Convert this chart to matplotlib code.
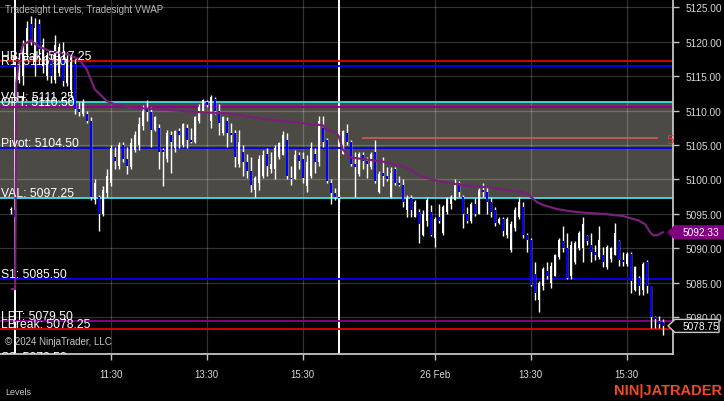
import matplotlib
matplotlib.use("Agg")
import matplotlib.pyplot as plt
from matplotlib.patches import Polygon
from matplotlib.transforms import IdentityTransform
import numpy as np

plt.rcParams['font.family'] = ['Liberation Sans', 'DejaVu Sans']

# 5 minute bars, index of the first drawn bar
first_bar = 2

opens = [
    5095.5, 5095.5, 5114.5, 5115.0, 5118.0, 5122.5, 5117.0, 5122.5, 5116.5, 5115.0,
    5117.5, 5114.5, 5115.5, 5117.5, 5114.0, 5113.0, 5116.75, 5110.25, 5109.5, 5109.5,
    5108.5, 5097.0, 5097.5, 5095.0, 5098.0, 5099.5, 5103.25, 5102.0, 5105.0, 5103.0,
    5101.75, 5104.25, 5105.0, 5107.75, 5110.25, 5109.75, 5107.25, 5107.5, 5104.25, 5103.0,
    5106.5, 5104.5, 5107.0, 5105.0, 5107.5, 5105.75, 5105.5, 5108.5, 5110.0, 5111.25,
    5108.5, 5111.75, 5110.0, 5106.75, 5108.5, 5106.75, 5106.75, 5102.25, 5104.0, 5102.5,
    5101.25, 5098.5, 5099.5, 5100.5, 5103.75, 5101.5, 5101.5, 5103.25, 5103.5, 5105.75,
    5100.25, 5100.0, 5103.5, 5103.0, 5099.0, 5100.5, 5103.75, 5102.5, 5107.5, 5105.75,
    5099.5, 5098.0, 5097.5, 5103.75, 5106.75, 5105.5, 5102.25, 5100.75, 5103.5, 5102.75,
    5101.75, 5104.0, 5098.25, 5101.0, 5100.5, 5097.5, 5101.5, 5099.5, 5099.25, 5095.5,
    5097.25, 5094.5, 5095.25, 5092.0, 5094.0, 5095.25, 5091.5, 5094.5, 5092.25, 5095.25,
    5096.5, 5097.0, 5099.5, 5097.5, 5095.0, 5094.0, 5096.5, 5095.0, 5098.5, 5098.25,
    5096.75, 5095.5, 5093.75, 5094.25, 5092.0, 5089.75, 5093.0, 5094.5, 5096.0, 5092.0,
    5091.25, 5086.25, 5082.5, 5084.5, 5086.75, 5085.0, 5086.0, 5088.75, 5091.0, 5090.0,
    5086.0, 5088.0, 5090.0, 5090.0, 5091.75, 5090.5, 5089.5, 5088.75, 5089.0, 5087.25,
    5088.5, 5089.0, 5091.0, 5088.25, 5087.75, 5089.25, 5084.0, 5085.75, 5084.0, 5088.0,
    5084.5, 5080.0, 5079.5, 5079.25,
]
highs = [
    5096.0, 5096.0, 5117.25, 5120.25, 5123.0, 5123.75, 5123.5, 5123.25, 5120.5, 5118.5,
    5118.25, 5121.0, 5119.75, 5120.0, 5118.5, 5118.0, 5117.5, 5111.25, 5111.75, 5110.0,
    5109.0, 5100.0, 5097.75, 5099.0, 5101.5, 5105.0, 5104.75, 5105.5, 5105.5, 5104.75,
    5106.0, 5107.0, 5109.0, 5110.75, 5111.5, 5110.5, 5109.25, 5108.0, 5104.5, 5107.25,
    5107.0, 5107.25, 5107.5, 5108.25, 5108.0, 5107.5, 5109.25, 5111.0, 5111.75, 5111.5,
    5112.25, 5112.0, 5111.0, 5109.25, 5109.0, 5108.25, 5107.25, 5107.25, 5105.0, 5103.75,
    5103.25, 5100.5, 5103.5, 5104.25, 5104.5, 5104.0, 5105.0, 5105.5, 5107.0, 5106.75,
    5102.0, 5104.25, 5104.0, 5104.0, 5103.5, 5105.5, 5104.5, 5109.25, 5109.25, 5106.0,
    5100.0, 5098.75, 5097.75, 5107.25, 5108.0, 5105.75, 5104.0, 5104.0, 5104.0, 5103.25,
    5104.0, 5105.75, 5101.25, 5103.25, 5101.75, 5101.75, 5101.75, 5100.5, 5100.0, 5097.75,
    5097.75, 5097.0, 5095.75, 5095.5, 5097.5, 5096.25, 5094.5, 5096.5, 5096.25, 5097.5,
    5097.75, 5100.0, 5099.75, 5097.75, 5096.0, 5096.75, 5097.25, 5098.75, 5099.5, 5099.0,
    5097.5, 5096.0, 5094.5, 5094.5, 5094.5, 5094.0, 5096.0, 5097.5, 5096.75, 5092.25,
    5091.5, 5088.0, 5085.25, 5087.25, 5088.0, 5088.0, 5089.25, 5091.5, 5093.25, 5092.25,
    5091.0, 5091.0, 5092.5, 5094.5, 5092.0, 5092.25, 5090.5, 5093.25, 5090.25, 5090.5,
    5090.25, 5093.75, 5091.25, 5089.5, 5089.5, 5089.5, 5087.5, 5086.0, 5088.0, 5088.25,
    5084.5, 5080.25, 5080.25, 5079.75,
]
lows = [
    5095.0, 5094.25, 5114.0, 5113.75, 5117.5, 5119.5, 5115.0, 5118.25, 5115.5, 5114.5,
    5114.0, 5114.0, 5115.0, 5113.5, 5113.5, 5112.0, 5109.5, 5109.25, 5109.25, 5108.25,
    5097.0, 5096.5, 5092.5, 5094.75, 5097.5, 5099.0, 5101.5, 5101.5, 5102.5, 5100.75,
    5101.5, 5104.0, 5104.25, 5107.25, 5108.5, 5104.75, 5107.0, 5101.5, 5099.0, 5102.5,
    5101.0, 5104.0, 5104.5, 5104.75, 5104.5, 5105.25, 5105.25, 5108.25, 5110.0, 5110.5,
    5107.5, 5109.5, 5106.5, 5106.5, 5104.75, 5105.5, 5101.75, 5101.75, 5100.5, 5100.25,
    5098.25, 5097.5, 5098.5, 5100.25, 5100.5, 5101.0, 5100.0, 5103.0, 5103.5, 5100.0,
    5099.25, 5100.0, 5101.5, 5099.5, 5098.25, 5100.25, 5101.0, 5102.0, 5104.75, 5099.5,
    5096.5, 5097.0, 5096.75, 5103.75, 5105.0, 5102.0, 5097.5, 5100.5, 5101.5, 5100.25,
    5101.5, 5099.5, 5098.0, 5099.0, 5099.75, 5097.25, 5099.25, 5099.0, 5096.0, 5094.5,
    5094.5, 5094.5, 5090.75, 5091.75, 5093.25, 5091.75, 5090.25, 5093.75, 5092.0, 5095.0,
    5095.75, 5097.0, 5097.5, 5093.0, 5093.75, 5093.75, 5094.75, 5095.0, 5097.5, 5095.0,
    5094.5, 5093.25, 5093.5, 5091.75, 5091.5, 5089.5, 5092.5, 5094.25, 5091.5, 5089.5,
    5084.5, 5082.5, 5080.75, 5084.0, 5085.5, 5084.25, 5086.0, 5088.5, 5089.5, 5085.5,
    5085.5, 5087.75, 5089.75, 5088.0, 5090.5, 5088.0, 5088.25, 5088.5, 5087.25, 5087.0,
    5088.0, 5089.0, 5087.5, 5087.5, 5087.5, 5083.5, 5083.75, 5083.25, 5083.25, 5083.5,
    5078.5, 5078.5, 5078.5, 5077.5,
]
closes = [
    5095.75, 5094.5, 5116.75, 5119.0, 5122.0, 5120.25, 5122.0, 5119.0, 5119.5, 5118.0,
    5115.0, 5119.5, 5119.25, 5114.25, 5117.5, 5117.0, 5110.25, 5109.75, 5111.25, 5108.5,
    5097.5, 5099.5, 5095.0, 5098.5, 5100.5, 5104.5, 5102.75, 5105.0, 5103.0, 5102.0,
    5105.25, 5106.5, 5108.0, 5110.0, 5109.75, 5107.25, 5109.0, 5104.0, 5104.0, 5106.75,
    5105.5, 5107.0, 5106.5, 5108.0, 5105.75, 5105.5, 5109.0, 5110.5, 5111.5, 5110.75,
    5112.0, 5110.0, 5108.25, 5109.0, 5106.75, 5106.5, 5103.25, 5105.5, 5102.5, 5101.25,
    5099.25, 5100.25, 5103.0, 5103.5, 5102.0, 5102.25, 5104.5, 5105.25, 5106.5, 5100.5,
    5100.0, 5103.5, 5102.75, 5100.25, 5102.5, 5104.5, 5102.5, 5108.5, 5105.5, 5099.75,
    5098.0, 5097.5, 5097.25, 5107.0, 5105.5, 5102.25, 5101.75, 5103.75, 5102.75, 5102.25,
    5103.75, 5099.75, 5100.75, 5100.5, 5100.0, 5101.0, 5099.5, 5099.25, 5096.75, 5097.25,
    5095.5, 5096.75, 5093.5, 5095.0, 5097.0, 5092.0, 5094.25, 5094.0, 5096.0, 5097.25,
    5097.5, 5099.5, 5098.25, 5095.0, 5094.0, 5096.5, 5095.0, 5098.5, 5098.25, 5096.75,
    5095.25, 5093.75, 5094.25, 5092.5, 5094.25, 5093.5, 5095.5, 5096.75, 5092.0, 5091.25,
    5084.75, 5083.5, 5085.0, 5087.0, 5086.0, 5087.5, 5089.0, 5091.25, 5090.0, 5085.75,
    5090.5, 5090.75, 5092.25, 5093.5, 5091.0, 5089.5, 5089.0, 5091.25, 5088.0, 5090.25,
    5090.0, 5092.25, 5088.25, 5088.0, 5089.25, 5085.25, 5087.25, 5084.5, 5087.75, 5084.5,
    5080.0, 5079.75, 5079.0, 5078.75,
]

# VWAP (bar index, price)
vwap_x = [2.3, 3.1, 3.4, 4, 5, 7, 9, 12, 16, 19, 21, 23, 26, 28, 33, 39, 48, 56, 60, 64,
          70, 74, 77, 80, 81, 83, 84, 85, 86, 87, 91, 95, 98, 102, 104, 106.8, 110.1,
          113.6, 117.6, 121.1, 124.3, 126.8, 130.1, 131.8, 133.6, 135.1, 138.6, 141.8,
          145.1, 151.1, 155.1, 156.8, 158.8, 160.6, 161.8, 162.6, 163.6, 165]
vwap_y = [5084.1, 5084.1, 5114.0, 5117.0, 5119.5, 5120.2, 5119.3, 5118.6, 5118.2, 5117.5,
          5116.0, 5113.1, 5111.4, 5110.9, 5110.4, 5110.2, 5109.8, 5109.6, 5109.3, 5108.9,
          5108.45, 5108.3, 5108.0, 5107.9, 5107.15, 5107.0, 5106.3, 5104.4, 5103.7, 5103.2,
          5102.9, 5102.6, 5102.2, 5101.5, 5100.6, 5100.1, 5099.6, 5099.3, 5099.0, 5098.9,
          5098.6, 5098.4, 5098.15, 5097.6, 5096.7, 5096.3, 5095.7, 5095.4, 5095.2, 5094.95,
          5094.7, 5094.4, 5094.1, 5093.5, 5092.4, 5091.9, 5091.9, 5092.33]

# Tradesight levels
level_names = ["HBreak", "R1", "VAH", "OPT", "Pivot", "VAL", "S1", "LPT", "LBreak", "S2"]
level_values = [5117.25, 5116.50, 5111.25, 5110.50, 5104.50, 5097.25, 5085.50, 5079.50, 5078.25, 5073.50]
level_colors = ["#e60000", "#0000ff", "#40e0e0", "#8c008c", "#0000f0", "#40e0e0",
                "#0000ff", "#8c008c", "#e60000", "#0000ff"]

# short level on day two
extra_level = 5106.0
extra_start, extra_end = 89.8, 163.8

session_starts = [3, 84]
tick_pos = [27, 51, 75, 108, 132, 156]
tick_labels = ["11:30", "13:30", "15:30", "26 Feb", "13:30", "15:30"]
price_ticks = [5080, 5085, 5090, 5095, 5100, 5105, 5110, 5115, 5120, 5125]

last_price = closes[-1]
last_vwap = vwap_y[-1]

W, H = 724, 402
fig = plt.figure(figsize=(W / 100, H / 100), dpi=100, facecolor="black")
ax = fig.add_axes([0, 47 / H, 673 / W, 355 / H], facecolor="black")
ax.set_xlim(-0.675, 167.575)
ax.set_ylim(5074.67, 5126.2)

# value area
ax.axhspan(level_values[5], level_values[2], color="#4b4a44", lw=0, zorder=0.2)

# grid
ax.set_axisbelow(True)
ax.grid(True, color="white", alpha=0.2, lw=0.9)

# session breaks
for s in session_starts:
    ax.axvline(s, color="white", lw=1.4, zorder=1.5)

# level lines and labels
for name, val, col in zip(level_names, level_values, level_colors):
    ax.axhline(val, color=col, lw=1.3, zorder=2)
    ax.text(-0.45, val + 0.3, f"{name}: {val:.2f}", color="white", fontsize=8.7,
            va="baseline", ha="left", zorder=6, clip_on=True)

ax.hlines(extra_level, extra_start, extra_end, color="#e05a5a", lw=1.1, zorder=2)
ax.text(166.0, extra_level - 0.3, "5", color="#ff2a2a", fontsize=9.5, va="center",
        ha="left", zorder=6)

# candles
x = np.arange(first_bar, first_bar + len(opens))
o = np.array(opens)
c = np.array(closes)
up = c >= o
bottom = np.minimum(o, c)
height = np.maximum(np.abs(c - o), 0.15)
ax.vlines(x, lows, highs, color="white", lw=1.0, zorder=3)
ax.bar(x[up], height[up], bottom=bottom[up], width=0.55, color="white", lw=0, zorder=4)
ax.bar(x[~up], height[~up], bottom=bottom[~up], width=0.55, color="#0000ff", lw=0, zorder=4)

# vwap
ax.plot(vwap_x, vwap_y, color="#7a1f7a", lw=1.6, zorder=5)

# axes styling
for side in ["left", "top"]:
    ax.spines[side].set_visible(False)
for side in ["right", "bottom"]:
    ax.spines[side].set_color("#c4c4c4")
    ax.spines[side].set_linewidth(1.3)
ax.yaxis.tick_right()
ax.set_yticks(price_ticks)
ax.set_yticklabels([f"{p:.2f}" for p in price_ticks])
ax.set_xticks(tick_pos)
ax.set_xticklabels(tick_labels)
ax.tick_params(axis="y", colors="#c4c4c4", labelcolor="#d8d8d8", length=4, width=1,
               labelsize=7.3, pad=5)
ax.tick_params(axis="x", colors="#c4c4c4", labelcolor="#d8d8d8", length=4, width=1,
               labelsize=7, pad=7)


def price_tag(value, face, edge, right):
    # left pointing marker on the price axis
    yp = ax.transData.transform((0, value))[1]
    x0 = ax.transAxes.transform((1, 0))[0]
    pts = [(x0 - 5, yp), (x0 + 2, yp + 6.5), (right, yp + 6.5), (right, yp - 6.5), (x0 + 2, yp - 6.5)]
    fig.add_artist(Polygon(pts, closed=True, fc=face, ec=edge, lw=1,
                           transform=IdentityTransform(), zorder=10))
    fig.text(x0 + 10, yp, f"{value:.2f}", color="white", fontsize=7.3, va="center",
             ha="left", transform=IdentityTransform(), zorder=11)


price_tag(last_vwap, "#800080", "#800080", W + 2)
price_tag(last_price, "black", "#c8c8c8", 719)

fig.text(5 / W, 1 - 10 / H, "Tradesight Levels, Tradesight VWAP", color="#b8b8b8",
         fontsize=7, va="center", ha="left")
fig.text(5 / W, 1 - 342 / H, "\u00a9 2024 NinjaTrader, LLC", color="#c8c8c8",
         fontsize=7, va="center", ha="left")
fig.text(5 / W, 1 - 393 / H, "Levels", color="#c8c8c8", fontsize=6.5, va="center", ha="left")
fig.text(1 - 2 / W, 1 - 391 / H, "NIN|JATRADER", color="#f04b25", fontsize=10.5,
         fontweight="bold", va="center", ha="right")

fig.savefig("out.png", dpi=100, facecolor="black")
